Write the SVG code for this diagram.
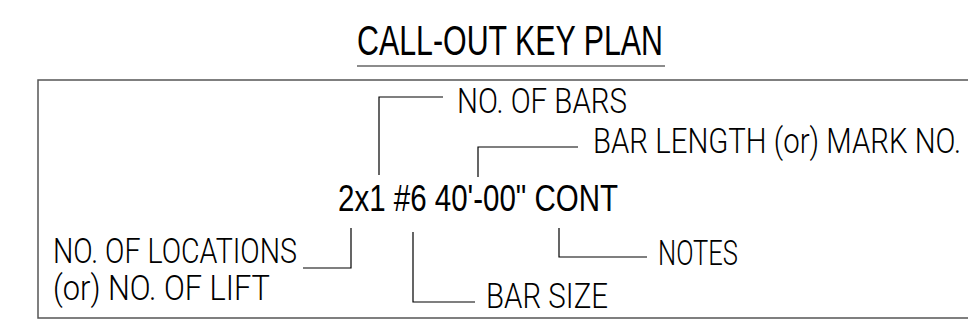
<svg xmlns="http://www.w3.org/2000/svg" width="968" height="323" viewBox="0 0 968 323">
<style>
.lbl{font-family:Roboto,"Liberation Sans",sans-serif;font-weight:300;font-size:35px;fill:#000}
.ttl{font-family:"Liberation Sans",Arial,sans-serif;font-size:42px;fill:#000}
.main{font-family:"Liberation Sans",Arial,sans-serif;font-size:36px;fill:#000}
.ld{fill:none;stroke:#000;stroke-width:1.2}
.frame{fill:none;stroke:#555;stroke-width:1.5}
</style>
<rect width="968" height="323" fill="#fff"/>
<g id="title">
<text class="ttl" x="357" y="55" textLength="306" lengthAdjust="spacingAndGlyphs">CALL-OUT KEY PLAN</text>
<line x1="357" y1="66" x2="665" y2="66" stroke="#666" stroke-width="1.5"/>
</g>
<rect id="frame" class="frame" x="38" y="80" width="940" height="238"/>
<g id="callout">
<text class="main" x="338" y="211" textLength="280" lengthAdjust="spacingAndGlyphs">2x1 #6 40'-00" CONT</text>
</g>
<g id="bars"><text class="lbl" x="457" y="113" textLength="170" lengthAdjust="spacingAndGlyphs">NO. OF BARS</text></g>
<g id="length"><text class="lbl" x="593" y="153" textLength="368" lengthAdjust="spacingAndGlyphs">BAR LENGTH (or) MARK NO.</text></g>
<g id="locations">
<text class="lbl" x="53" y="263" textLength="244" lengthAdjust="spacingAndGlyphs">NO. OF LOCATIONS</text>
<text class="lbl" x="53" y="300" textLength="217" lengthAdjust="spacingAndGlyphs">(or) NO. OF LIFT</text>
</g>
<g id="size"><text class="lbl" x="486" y="308" textLength="122" lengthAdjust="spacingAndGlyphs">BAR SIZE</text></g>
<g id="notes"><text class="lbl" x="658" y="265" textLength="80" lengthAdjust="spacingAndGlyphs">NOTES</text></g>
<g id="connectors">
<polyline class="ld" points="379,175 379,97 443,97"/>
<polyline class="ld" points="478,177 478,147 578,147"/>
<polyline class="ld" points="303,268 351,268 351,228"/>
<polyline class="ld" points="413,232 413,302 475,302"/>
<polyline class="ld" points="559,228 559,257 647,257"/>
</g>
</svg>
